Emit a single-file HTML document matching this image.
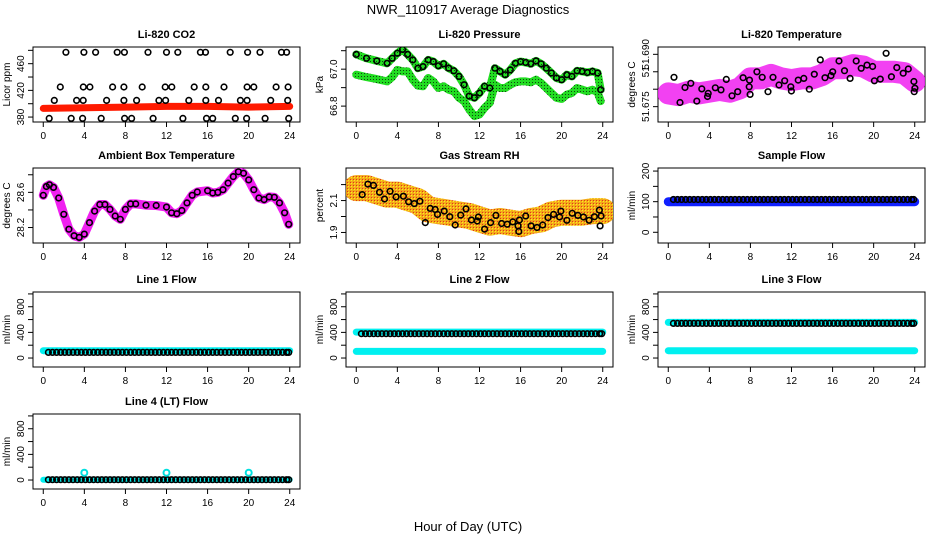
<!DOCTYPE html>
<html><head><meta charset="utf-8">
<style>
html,body{margin:0;padding:0;background:#fff;}
svg{display:block;font-family:"Liberation Sans",sans-serif;}
</style></head>
<body>
<svg id="chart" width="936" height="540" viewBox="0 0 936 540" xmlns="http://www.w3.org/2000/svg">
<defs>
<pattern id="rhPat" width="3" height="3" patternUnits="userSpaceOnUse"><rect width="3" height="3" fill="#f2a000"/><rect width="1" height="1" fill="#ffee00"/><rect x="2" y="2" width="1" height="1" fill="#e02000"/></pattern>
<pattern id="grPat" width="3" height="3" patternUnits="userSpaceOnUse"><rect width="3" height="3" fill="#22dd22"/><rect x="1" y="1" width="1" height="1" fill="#114411"/></pattern>
</defs>
<text x="468" y="14" font-size="13" text-anchor="middle">NWR_110917  Average Diagnostics</text>
<text x="468" y="531" font-size="13" text-anchor="middle">Hour of Day (UTC)</text>
</svg>
<script>
// ---- data ----
const co2Hours = [2.2,3.96,5.1,7.2,7.9,10.2,12,13.1,15.3,15.8,18.2,19.9,21.1,23.2,23.7, 1.66,3.9,4.54,6.75,7.85,9.63,11.87,12.52,14.7,15.83,17.6,19.85,20.5,22.67,23.84, 1.07,3.25,3.89,6.17,7.85,9.09,11.26,11.91,14.17,15.83,17.06,19.2,19.85,22.15,23.8, 0.58,2.72,3.83,5.64,7.92,8.6,10.7,13.6,15.9,16.5,18.7,19.8,21.6,23.9];
const co2Values = [477,477,477,477,477,477,477,477,477,477,477,477,477,477,477, 425,425,425,425,425,425,425,425,425,425,425,425,425,425,425, 405,405,405,405,405,405,405,405,405,405,405,405,405,405,405, 378,378,378,378,378,378,378,378,378,378,378,378,378,378];
const co2BandHours = [0,4,8,12,16,20,24];
const co2BandValues = [393,394,395,396,396,395,396];

const presHours = [0,1,2,3,3.5,4,4.5,5,5.5,6,6.5,7,7.5,8,8.5,9,9.5,10,10.5,11,11.5,12,12.5,13,13.5,14,14.5,15,15.5,16,16.5,17,17.5,18,18.5,19,19.5,20,20.5,21,21.5,22,22.5,23,23.5,23.8];
const presUpper = [67.080,67.059,67.045,67.032,67.059,67.086,67.107,67.080,67.050,67.005,67.014,67.050,67.041,67.018,67.029,67.005,66.991,66.961,66.916,66.854,66.845,66.871,66.907,66.898,67.005,66.988,66.970,66.996,67.032,67.041,67.036,67.029,67.045,67.029,67.005,66.979,66.952,66.943,66.970,66.961,66.991,66.988,66.982,66.988,66.979,66.889];
const presLower = [66.970,66.957,66.946,66.934,66.957,66.996,66.988,66.988,66.943,66.911,66.907,66.952,66.934,66.898,66.907,66.889,66.880,66.845,66.827,66.782,66.746,66.755,66.791,66.818,66.916,66.898,66.898,66.916,66.929,66.934,66.934,66.929,66.943,66.925,66.898,66.871,66.845,66.839,66.862,66.871,66.898,66.889,66.880,66.889,66.875,66.827];

const tempBandHours = [0,1,2,3,4,5,6,7,8,9,10,11,12,13,14,15,16,17,18,19,20,21,22,23,24];
const tempBandValues = [51.6788,51.6783,51.6793,51.6788,51.6793,51.6798,51.6793,51.6803,51.6831,51.6831,51.6841,51.6831,51.6826,51.6831,51.6831,51.6841,51.6860,51.6860,51.6869,51.6865,51.6850,51.6850,51.6850,51.6846,51.6822];
const tempHours = [0.56,1.14,1.63,2.19,2.78,3.27,3.89,3.82,4.58,5.13,5.65,6.21,6.76,7.29,7.88,7.97,7.91,8.63,9.15,9.71,10.2,10.78,11.34,11.93,11.99,12.65,13.2,13.73,14.22,14.8,15.26,15.85,16.01,16.63,17.16,17.71,18.3,18.79,19.35,19.9,20.07,20.65,21.21,21.73,22.25,22.88,23.37,23.92,24.02,23.95];
const tempValues = [51.6834,51.6762,51.6805,51.6817,51.6766,51.6801,51.6788,51.6779,51.6804,51.6798,51.6828,51.6781,51.6793,51.6833,51.6807,51.6785,51.6826,51.6850,51.6834,51.6793,51.6834,51.6812,51.6824,51.6807,51.6795,51.6826,51.6831,51.6800,51.6843,51.6884,51.6833,51.6839,51.6850,51.6881,51.6853,51.6831,51.6881,51.6860,51.6869,51.6865,51.6824,51.6829,51.6903,51.6836,51.6862,51.6846,51.6858,51.6822,51.6803,51.6793];

const ambHours = [0,0.3,0.6,1.0,1.5,2,2.5,3,3.5,4,4.5,5,5.5,6,6.5,7,7.5,8,8.5,9,10,11,12,12.5,13,13.5,14,14.5,15,16,16.5,17,17.5,18,18.5,19,19.5,20,20.5,21,21.5,22,22.5,23,23.5,23.9];
const ambValues = [28.566,28.667,28.686,28.656,28.536,28.350,28.181,28.107,28.088,28.125,28.256,28.387,28.462,28.462,28.406,28.331,28.293,28.406,28.469,28.469,28.454,28.450,28.432,28.368,28.357,28.394,28.480,28.566,28.604,28.619,28.593,28.600,28.630,28.705,28.779,28.835,28.817,28.742,28.630,28.536,28.518,28.548,28.544,28.480,28.368,28.237];

const rhBandHours = [0,1,2,3,4,5,6,7,8,9,10,11,12,13,14,15,16,17,18,19,20,21,22,23,24];
const rhBandValues = [2.178,2.178,2.158,2.137,2.137,2.116,2.096,2.044,2.034,2.024,2.013,2.003,1.982,1.962,1.972,1.962,1.952,1.972,1.982,2.013,2.024,2.024,2.024,2.034,2.034];
const rhHours = [0.58,1.13,1.68,2.26,2.75,3.29,3.88,4.59,5.10,5.65,6.2,6.72,7.2,7.69,7.91,8.56,9.11,9.63,10.17,10.69,11.21,11.79,11.89,12.5,13.08,13.6,14.15,14.7,15.24,15.76,15.83,15.89,16.5,17.02,17.6,18.15,18.67,19.22,19.8,19.93,20.51,21.03,21.58,22.13,22.67,23.19,23.68,23.84,23.74];
const rhValues = [2.137,2.203,2.195,2.152,2.110,2.158,2.123,2.127,2.092,2.081,2.096,1.962,2.051,2.044,2.013,2.034,1.999,1.947,2.009,2.048,1.978,1.972,1.997,1.921,1.962,2.007,1.956,1.952,1.966,1.941,1.906,1.978,2.003,1.941,1.931,1.947,1.993,2.013,1.997,2.034,1.976,2.020,2.007,1.997,1.976,1.999,2.040,2.003,1.941];

const flowHours = [0.5,0.9,1.3,1.7,2.1,2.5,2.9,3.3,3.7,4.1,4.5,4.9,5.3,5.7,6.1,6.5,6.9,7.3,7.7,8.1,8.5,8.9,9.3,9.7,10.1,10.5,10.9,11.3,11.7,12.1,12.5,12.9,13.3,13.7,14.1,14.5,14.9,15.3,15.7,16.1,16.5,16.9,17.3,17.7,18.1,18.5,18.9,19.3,19.7,20.1,20.5,20.9,21.3,21.7,22.1,22.5,22.9,23.3,23.7,23.9];
const sampleBlueLevel = 100;
const sampleBlackLevel = 107;
const line1CyanLevel = 115;
const line1BlackLevel = 88;
const line2CyanLevels = [405, 103];
const line2BlackLevel = 380;
const line3CyanLevels = [555, 115];
const line3BlackLevel = 540;
const line4CyanLevel = 5;
const line4BlackLevel = 5;
const line4SpikeHours = [4, 12, 20];
const line4SpikeValues = [114, 114, 114];

const xTicks = [0,4,8,12,16,20,24];
const flowTicks = [0,200,400,600,800,1000];
const flowLabels = ["0","","400","","800",""];

// ---- layout ----
const NS = "http://www.w3.org/2000/svg";
const svg = document.getElementById('chart');
const colLeft = [33, 346, 658], boxW = 267;
const rowTop = [47, 168, 292, 414], boxH = 75;

function mk(tag, attrs, parent) {
  const e = document.createElementNS(NS, tag);
  for (const k in attrs) e.setAttribute(k, attrs[k]);
  (parent || svg).appendChild(e);
  return e;
}

function makePanel(name, col, row, ymin, ymax, yticks, ylabels, ytitle, title) {
  const L = colLeft[col], T = rowTop[row];
  const g = mk('g', {});
  
  
  const sx = h => L + (h + 1) / 26 * boxW;
  const sy = v => T + boxH - (v - ymin) / (ymax - ymin) * boxH;
  const t = mk('text', {x: L + boxW / 2, y: T - 9, 'font-size': 11, 'font-weight': 'bold', 'text-anchor': 'middle'}, g);
  t.textContent = title;
  
  
  const box = mk('rect', {x: L, y: T, width: boxW, height: boxH, fill: 'none', stroke: '#000', 'stroke-width': 1}, g);
  
  
  // x axis
  const xa = mk('g', {}, g);
  
  
  mk('line', {x1: sx(0), x2: sx(24), y1: T + boxH, y2: T + boxH, stroke: '#000'}, xa);
  xTicks.forEach(h => {
    mk('line', {x1: sx(h), x2: sx(h), y1: T + boxH, y2: T + boxH + 5, stroke: '#000'}, xa);
    const tl = mk('text', {x: sx(h), y: T + boxH + 17, 'font-size': 10, 'text-anchor': 'middle'}, xa);
    tl.textContent = h;
  });
  // y axis
  const ya = mk('g', {}, g);
  
  
  mk('line', {x1: L, x2: L, y1: sy(yticks[0]), y2: sy(yticks[yticks.length - 1]), stroke: '#000'}, ya);
  yticks.forEach((v, i) => {
    mk('line', {x1: L - 5, x2: L, y1: sy(v), y2: sy(v), stroke: '#000'}, ya);
    if (ylabels[i]) {
      const tl = mk('text', {x: 0, y: 0, 'font-size': 10, 'text-anchor': 'middle', transform: `translate(${L - 9},${sy(v)}) rotate(-90)`}, ya);
      tl.textContent = ylabels[i];
    }
  });
  const yt = mk('text', {x: 0, y: 0, 'font-size': 10, 'text-anchor': 'middle', transform: `translate(${L - 23},${T + boxH / 2}) rotate(-90)`}, g);
  yt.textContent = ytitle;
  
  
  const clipId = 'clip' + col + row;
  const cp = mk('clipPath', {id: clipId}, g);
  mk('rect', {x: L, y: T, width: boxW, height: boxH}, cp);
  const plot = mk('g', {'clip-path': `url(#${clipId})`}, g);
  return {g: plot, sx, sy};
}

function band(p, name, hours, vals, color, width, opacity) {
  const d = hours.map((h, i) => (i ? 'L' : 'M') + p.sx(h).toFixed(1) + ',' + p.sy(vals[i]).toFixed(1)).join('');
  const e = mk('path', {d, fill: 'none', stroke: color, 'stroke-width': width, 'stroke-linejoin': 'round', 'stroke-linecap': 'round', opacity: opacity || 1}, p.g);
  
  
  return e;
}
function points(p, name, hours, vals, color, r, sw) {
  const grp = mk('g', {}, p.g);
  
  
  hours.forEach((h, i) => {
    const c = mk('circle', {cx: p.sx(h).toFixed(1), cy: p.sy(vals[i]).toFixed(1), r: r || 2.8, fill: 'none', stroke: color, 'stroke-width': sw || 1.6}, grp);
    
    
  });
}
function level(p, name, lv, color, width) {
  return band(p, name, [0, 24], [lv, lv], color, width);
}
function flowPoints(p, name, lv, color) {
  points(p, name, flowHours, flowHours.map(() => lv), color, 2.8, 1.6);
}

// CO2
let p = makePanel('co2', 0, 0, 372.6, 485, [380,400,420,440,460,480], ["380","","420","","460",""], "Licor ppm", "Li-820 CO2");
band(p, 'co2-red-band', co2BandHours, co2BandValues, '#ff1a00', 7);
points(p, 'co2-black-points', co2Hours, co2Values, '#000');

// Pressure
p = makePanel('pressure', 1, 0, 66.714, 67.12, [66.8,66.9,67.0,67.1], ["66.8","","67.0",""], "kPa", "Li-820 Pressure");
band(p, 'pressure-lower-green', presHours, presLower, 'url(#grPat)', 8);
band(p, 'pressure-upper-green', presHours, presUpper, 'url(#grPat)', 8);
points(p, 'pressure-black-points', presHours, presUpper, '#000');

// Temperature
p = makePanel('temperature', 2, 0, 51.6706, 51.6921, [51.675,51.680,51.685,51.690], ["51.675","","51","51.690"], "degrees C", "Li-820 Temperature");
band(p, 'temperature-magenta-cloud', tempBandHours, tempBandValues, '#f020f0', 22, 0.85);
points(p, 'temperature-black-points', tempHours, tempValues, '#000');

// Ambient
p = makePanel('ambient', 0, 1, 28.024, 28.877, [28.2,28.4,28.6,28.8], ["28.2","","28.6",""], "degrees C", "Ambient Box Temperature");
band(p, 'ambient-magenta-line', ambHours, ambValues, '#f020f0', 9);
points(p, 'ambient-black-points', ambHours, ambValues, '#000');

// RH
p = makePanel('rh', 1, 1, 1.834, 2.304, [1.9,2.0,2.1,2.2], ["1.9","","2.1",""], "percent", "Gas Stream RH");
band(p, 'rh-orange-cloud', rhBandHours, rhBandValues, 'url(#rhPat)', 26, 0.9);
points(p, 'rh-black-points', rhHours, rhValues, '#000');

// Sample flow
p = makePanel('sample-flow', 2, 1, -35, 210, [0,50,100,150,200], ["0","","100","","200"], "ml/min", "Sample Flow");
level(p, 'sample-flow-blue-band', sampleBlueLevel, '#1020ff', 9);
flowPoints(p, 'sample-flow-black-points', sampleBlackLevel, '#000');

// Line 1
p = makePanel('line1-flow', 0, 2, -140, 1030, flowTicks, flowLabels, "ml/min", "Line 1 Flow");
level(p, 'line1-cyan-band', line1CyanLevel, '#00f0f0', 7);
flowPoints(p, 'line1-black-points', line1BlackLevel, '#000');

// Line 2
p = makePanel('line2-flow', 1, 2, -140, 1030, flowTicks, flowLabels, "ml/min", "Line 2 Flow");
line2CyanLevels.forEach((lv, i) => level(p, 'line2-cyan-band-' + (i + 1), lv, '#00f0f0', 7));
flowPoints(p, 'line2-black-points', line2BlackLevel, '#000');

// Line 3
p = makePanel('line3-flow', 2, 2, -140, 1030, flowTicks, flowLabels, "ml/min", "Line 3 Flow");
line3CyanLevels.forEach((lv, i) => level(p, 'line3-cyan-band-' + (i + 1), lv, '#00f0f0', 7));
flowPoints(p, 'line3-black-points', line3BlackLevel, '#000');

// Line 4
p = makePanel('line4-flow', 0, 3, -140, 1030, flowTicks, flowLabels, "ml/min", "Line 4 (LT) Flow");
level(p, 'line4-cyan-band', line4CyanLevel, '#00f0f0', 6);
flowPoints(p, 'line4-black-points', line4BlackLevel, '#000');
points(p, 'line4-cyan-spikes', line4SpikeHours, line4SpikeValues, '#00e0e0', 3, 2);
</script>
</body></html>
